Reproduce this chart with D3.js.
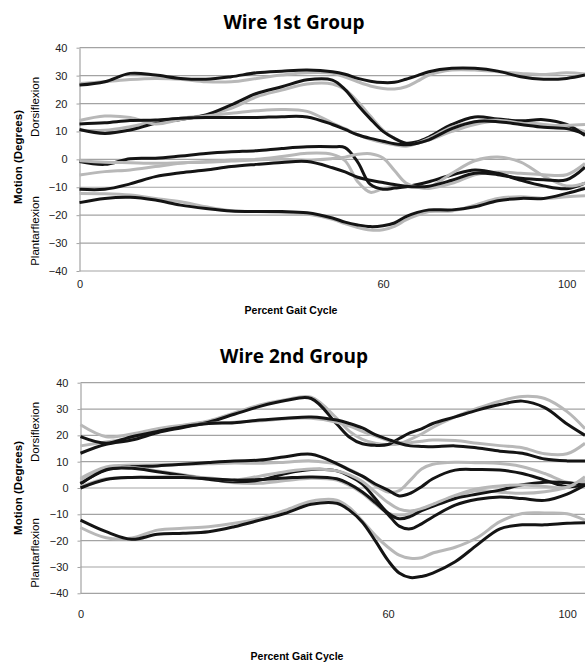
<!DOCTYPE html>
<html>
<head>
<meta charset="utf-8">
<script src="https://cdn.jsdelivr.net/npm/d3@7"></script>
<style>
  body { margin: 0; background: #fff; }
  svg { display: block; }
</style>
</head>
<body>
<script>
const WIDTH = 585, HEIGHT = 662;

// percent gait cycle sample points (shared by every curve)
const gaitPct = [0,5,10,15,20,25,30,35,40,45,50,52.5,55,57.5,60,62.5,65,67.5,70,75,80,85,90,95,100,104];
const xTickValues = [0, 60, 100];
const yTickValues = [-40,-30,-20,-10,0,10,20,30,40];

// Wire 1st group
const w1Black1 = [26.6,27.8,30.8,30.2,29,28.7,29.6,31,31.6,32,31.4,30.5,29,28,27.5,27.6,28.7,30,31.4,32.6,32.6,31.6,29.6,28.7,29,30.2];
const w1Gray1  = [27.2,27.8,28.6,29,28.7,27.8,27.8,29,30.2,31,30.8,29.5,27.8,26.3,25.4,25.2,26,28,30.2,32,32,31.4,30.8,30.4,31,30.6];
const w1Black2 = [10.7,9.3,10.5,12.9,14.3,15.9,19.5,23.6,26,28.5,28.4,25,19.5,14.5,10,7.5,5.8,6.3,8,12.5,15.2,14.5,13.8,14.2,12.5,8.5];
const w1Gray2  = [10.4,10.4,11.7,13.5,14.7,15.9,18.3,22.4,24.8,27,27,25,20.7,15.5,10.5,7.5,5.7,5.8,6.9,10,12.5,13.8,13.5,12.5,11.5,10];
const w1Black3 = [12.7,13.1,13.9,14.1,14.7,15,15,15,15.3,15.2,12.5,10.7,8.8,7.5,6.5,5.6,5.2,5.8,7,11,13.5,13.5,12.5,11.5,11,9];
const w1Gray3  = [13.9,15.5,15,12.7,14.3,15.5,16.5,17.4,17.9,17.2,13,11,8.8,7.2,6,5.2,4.7,5.8,7.5,11.5,13.5,14,13,12,12.2,12.5];
const w1Black4 = [-0.8,-1.8,0.2,0.4,1.2,2.1,2.7,3.1,3.9,4.5,4.5,4.2,-1,-9,-10.7,-10.3,-9.8,-9,-8,-5.6,-3.8,-5,-7.5,-9.5,-10.5,-8.5];
const w1Black5 = [-10.7,-10.7,-8.8,-6.2,-4.8,-3.8,-2.6,-1.8,-1.1,-0.8,-3,-4.5,-6.4,-7.5,-8.3,-9,-9.6,-9.8,-9.6,-7.5,-5,-5.5,-6.8,-7.3,-7.3,-2.8];
const w1Gray4  = [-5.6,-4.4,-3.8,-2.6,-1.4,-0.8,-0.2,0,1,2.2,1.8,-0.5,-8,-11.8,-10.5,-9.8,-9.8,-10,-10.4,-8.6,-5.5,-4.5,-5,-5.5,-5.5,-1.5];
const w1Gray5  = [-0.5,-1,-1.2,-1.4,-1.2,-1,-0.6,-0.2,0,-0.3,0.3,0.8,1.8,2,0.5,-4,-8.5,-10,-10,-5,-0.5,0.8,-1,-6,-9.5,-8.5];
const w1Black6 = [-15.5,-14,-13.6,-14.6,-16.4,-17.6,-18.5,-18.7,-18.7,-19.1,-21,-22.5,-23.5,-24.1,-23.8,-22.8,-20.5,-19,-18.1,-18.1,-17,-14.8,-14,-14,-12.2,-10.4];
const w1Gray6  = [-12.2,-12.3,-12.8,-14,-15.2,-17,-18.4,-18.7,-19,-19.6,-21.5,-23,-24.4,-25.3,-25.2,-24,-21.7,-20,-18.7,-18.5,-16.4,-14,-13.4,-14,-13.4,-13];

// Wire 2nd group
const w2Black1 = [13.2,16.6,18.2,21,23,25,28,31,33.2,34,24.3,19.3,16.8,16.2,16.5,18.8,21,22.5,24.5,27,29.6,31.7,33,30.5,24.3,20];
const w2Gray1  = [16,17.5,19,21.5,23.8,25.5,28.5,31.5,33.5,34.5,26.5,21.5,18.5,17,16.5,16.8,18.5,20.5,23,27,30.3,33,34.8,34,29,22.5];
const w2Black2 = [19.5,17,19.5,21.5,23.3,24.5,24.8,25.8,26.5,27,25.8,24.5,22.8,20.3,18.5,17,16,15.8,15.7,16,15.2,14,13.2,11,10.3,10.3];
const w2Gray2  = [24,19.5,20.5,22.5,23.8,24.5,25,25.5,26.3,26.5,25,23.5,21.5,19.8,18,17.3,17.2,17.8,18.2,18,17,16.1,15.3,13,13,17];
const w2Black3 = [1.8,6.8,8.1,8.4,9,9.7,10.3,10.6,11.9,12.8,9.3,6.8,4.5,1.5,-0.8,-3,-2,0.5,3.5,6.8,7,6.8,5.5,3,0.5,1.2];
const w2Gray3  = [3.7,8,8.7,8.8,9,9.2,9.5,9.4,9.8,10.3,9,7,4.5,1,-1.5,-1,3,7.2,9,9.8,9.6,9.3,8.1,5.5,2.2,1.8];
const w2Black4 = [1.5,7,7.5,6.2,4.8,3.3,2.4,3,5.5,7,6.5,4.5,1.5,-4,-9.5,-11.7,-10.8,-8.6,-7,-4,-2.3,-0.8,1.2,2.2,2,1];
const w2Gray4  = [3,7.5,7.8,6.5,5,3.5,2,1.8,2.8,3.7,3,1,-2,-6,-9.5,-10.3,-9.7,-8,-6.5,-3.3,-1,-1.6,-2,-1.4,0.3,3];
const w2Black5 = [0,3.2,4,4,4,3.5,3,3.2,3.8,4.2,3.5,1.5,-1.5,-5.5,-10,-14.5,-15.5,-13.6,-11,-6.5,-4.3,-3.4,-4,-4.7,-2.3,1.1];
const w2Gray5  = [0.5,3.5,4,4.3,4.3,3.8,3,4.5,6.2,7.2,6.5,5,2.5,-1.5,-5.5,-8,-8.7,-7.8,-6.2,-2.8,-0.3,0.8,1.1,0.6,0.3,4.3];
const w2Black6 = [-12.2,-16.6,-19.5,-17.6,-17.2,-16.6,-14.7,-12.2,-9.6,-6.2,-5.8,-8.5,-13,-20,-27.5,-32.3,-34,-33.6,-32.3,-28,-21.5,-15.5,-14,-14,-13.4,-13.2];
const w2Gray6  = [-15,-18.9,-19,-16,-15.3,-14.7,-13.4,-11.5,-8.4,-5,-4.6,-7.5,-12.5,-18,-22.5,-25.5,-26.7,-26.5,-24.7,-22.5,-18.8,-12.8,-9.7,-9.5,-9.8,-12.2];

const BLACK = "#141414", GRAY = "#b8b8b8";

const svg = d3.select("body").append("svg")
    .attr("width", WIDTH)
    .attr("height", HEIGHT);

function drawPanel(p) {
    let g = svg.append("g");
    let x = d3.scaleLinear().domain([0, 60, 104]).range([p.left, p.x60, WIDTH]);
    let y = d3.scaleLinear().domain([-40, 40]).range([p.bottom, p.top]);

    // title
    g.append("text")
        .attr("x", p.titleX).attr("y", p.titleY)
        .attr("text-anchor", "middle")
        .style("font-family", "'Open Sans', sans-serif")
        .style("font-weight", 700)
        .style("font-size", "19px")
        .text(p.title);

    // grid
    g.append("g").selectAll("line")
        .data(yTickValues)
        .enter().append("line")
        .attr("x1", p.left).attr("x2", WIDTH)
        .attr("y1", d => y(d)).attr("y2", d => y(d))
        .style("stroke", "#a3a3a3")
        .style("stroke-width", 1.2);

    // y axis
    let ya = g.append("g")
        .attr("transform", `translate(${p.left},0)`)
        .call(d3.axisLeft(y).tickValues(yTickValues).tickSize(3).tickSizeOuter(0).tickPadding(9));
    ya.select(".domain").style("stroke", "#a3a3a3").style("stroke-width", 1.2);
    ya.selectAll(".tick line").style("stroke", "#a3a3a3");
    ya.selectAll("text")
        .style("font-family", "'Liberation Sans', Arial, sans-serif")
        .style("font-size", "11px")
        .style("fill", "#222");

    // x axis (labels only)
    let xa = g.append("g")
        .attr("transform", `translate(0,${p.bottom})`)
        .call(d3.axisBottom(x).tickValues(xTickValues).tickSize(0));
    xa.select(".domain").remove();
    xa.selectAll("text")
        .attr("y", p.xLabelOff).attr("dy", "0.35em")
        .style("font-family", "'Liberation Sans', Arial, sans-serif")
        .style("font-size", "11px")
        .style("fill", "#222");

    // curves
    let line = d3.line()
        .x((d, i) => x(gaitPct[i]))
        .y(d => y(d))
        .curve(d3.curveCatmullRom.alpha(0.5));
    g.append("g").selectAll("path")
        .data(p.series)
        .enter().append("path")
        .attr("d", d => line(d.values))
        .style("fill", "none")
        .style("stroke", d => d.color)
        .style("stroke-width", 3)
        .style("stroke-linejoin", "round");

    // axis titles
    let font = "'Liberation Sans', Arial, sans-serif";
    g.append("text")
        .attr("transform", `translate(21.5,${p.motionY}) rotate(-90)`)
        .attr("text-anchor", "middle")
        .style("font-family", font).style("font-weight", 700).style("font-size", "11.5px")
        .text("Motion (Degrees)");
    g.append("text")
        .attr("transform", `translate(39,${p.dorsiY}) rotate(-90)`)
        .attr("text-anchor", "middle")
        .style("font-family", font).style("font-size", "11.5px")
        .text("Dorsiflexion");
    g.append("text")
        .attr("transform", `translate(39,${p.plantY}) rotate(-90)`)
        .attr("text-anchor", "middle")
        .style("font-family", font).style("font-size", "11.5px")
        .text("Plantarflexion");
    g.append("text")
        .attr("x", p.xTitleX).attr("y", p.xTitleY)
        .attr("text-anchor", "middle")
        .style("font-family", font).style("font-weight", 700).style("font-size", "10.5px")
        .text("Percent Gait Cycle");
}

drawPanel({
    title: "Wire 1st Group", titleX: 294, titleY: 29,
    left: 79.5, x60: 383, top: 47.7, bottom: 271,
    xLabelOff: 13, xTitleX: 291, xTitleY: 314,
    motionY: 157, dorsiY: 107, plantY: 231,
    series: [
        {color: GRAY, values: w1Gray1}, {color: BLACK, values: w1Black1},
        {color: GRAY, values: w1Gray2}, {color: BLACK, values: w1Black2},
        {color: GRAY, values: w1Gray3}, {color: BLACK, values: w1Black3},
        {color: GRAY, values: w1Gray4}, {color: BLACK, values: w1Black4},
        {color: GRAY, values: w1Gray5}, {color: BLACK, values: w1Black5},
        {color: GRAY, values: w1Gray6}, {color: BLACK, values: w1Black6}
    ]
});

drawPanel({
    title: "Wire 2nd Group", titleX: 294, titleY: 363,
    left: 80.5, x60: 388, top: 382.7, bottom: 593.3,
    xLabelOff: 20.7, xTitleX: 297, xTitleY: 659.5,
    motionY: 488, dorsiY: 432, plantY: 553,
    series: [
        {color: GRAY, values: w2Gray1}, {color: BLACK, values: w2Black1},
        {color: GRAY, values: w2Gray2}, {color: BLACK, values: w2Black2},
        {color: GRAY, values: w2Gray3}, {color: BLACK, values: w2Black3},
        {color: GRAY, values: w2Gray4}, {color: BLACK, values: w2Black4},
        {color: GRAY, values: w2Gray5}, {color: BLACK, values: w2Black5},
        {color: GRAY, values: w2Gray6}, {color: BLACK, values: w2Black6}
    ]
});
</script>
</body>
</html>
